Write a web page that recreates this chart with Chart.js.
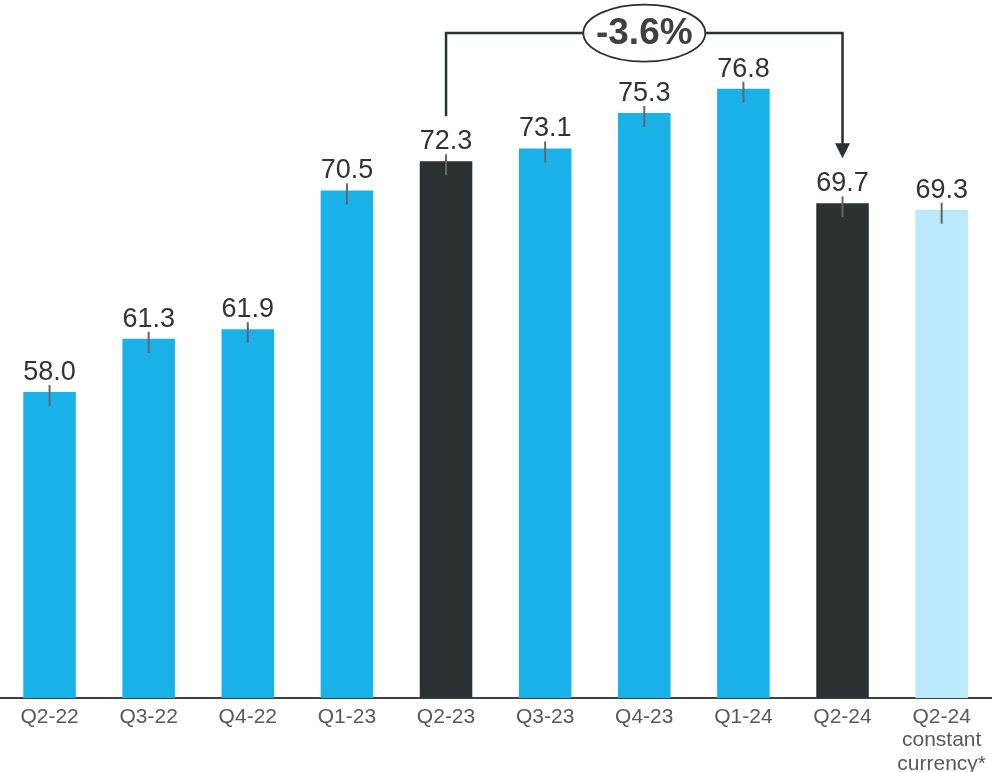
<!DOCTYPE html>
<html>
<head>
<meta charset="utf-8">
<script src="https://cdn.jsdelivr.net/npm/chart.js@4"></script>
<style>
  html, body { margin: 0; padding: 0; background: #fff; overflow: hidden; }
  #wrap { width: 994px; height: 772px; }
</style>
</head>
<body>
<div id="wrap"><canvas id="chartContainer" width="994" height="772"></canvas></div>
<script>
// Quarterly values
const quarters = ['Q2-22', 'Q3-22', 'Q4-22', 'Q1-23', 'Q2-23', 'Q3-23', 'Q4-23', 'Q1-24', 'Q2-24',
                  ['Q2-24', 'constant', 'currency*']];
const values = [58.0, 61.3, 61.9, 70.5, 72.3, 73.1, 75.3, 76.8, 69.7, 69.3];
const barColors = ['#1AB0E8', '#1AB0E8', '#1AB0E8', '#1AB0E8', '#2B3033',
                   '#1AB0E8', '#1AB0E8', '#1AB0E8', '#2B3033', '#B9E9FB'];

// change bracket: from Q2-23 to Q2-24
const changeFrom = 4;
const changeTo = 8;
const changeLabel = '-3.6%';
const bracketLevel = 80.25;

const FONT = '"Liberation Sans", Arial, sans-serif';

// value labels, little tick marks and the change bracket
const decorations = {
    id: 'decorations',
    afterDatasetsDraw(chart) {
        const ctx = chart.ctx;
        const bars = chart.getDatasetMeta(0).data;
        const yScale = chart.scales.y;

        ctx.save();
        bars.forEach((bar, i) => {
            ctx.strokeStyle = '#666';
            ctx.lineWidth = 2;
            ctx.beginPath();
            ctx.moveTo(bar.x, bar.y - 7);
            ctx.lineTo(bar.x, bar.y + 14);
            ctx.stroke();

            ctx.fillStyle = '#333';
            ctx.font = '27px ' + FONT;
            ctx.textAlign = 'center';
            ctx.textBaseline = 'alphabetic';
            ctx.fillText(values[i].toFixed(1), bar.x, bar.y - 12);
        });

        const a = bars[changeFrom];
        const b = bars[changeTo];
        const top = yScale.getPixelForValue(bracketLevel);
        const tip = b.y - 45;

        ctx.strokeStyle = '#2B3033';
        ctx.fillStyle = '#2B3033';
        ctx.lineWidth = 2.5;
        ctx.beginPath();
        ctx.moveTo(a.x, a.y - 45);
        ctx.lineTo(a.x, top);
        ctx.lineTo(b.x, top);
        ctx.lineTo(b.x, tip - 14);
        ctx.stroke();

        // arrow head
        ctx.beginPath();
        ctx.moveTo(b.x - 7.5, tip - 15);
        ctx.lineTo(b.x + 7.5, tip - 15);
        ctx.lineTo(b.x, tip);
        ctx.closePath();
        ctx.fill();

        // pill with the change
        const cx = (a.x + b.x) / 2;
        ctx.beginPath();
        ctx.ellipse(cx, top, 61, 28.5, 0, 0, Math.PI * 2);
        ctx.fillStyle = '#fff';
        ctx.fill();
        ctx.lineWidth = 1.8;
        ctx.stroke();

        ctx.fillStyle = '#404040';
        ctx.font = 'bold 37px ' + FONT;
        ctx.textAlign = 'center';
        ctx.textBaseline = 'middle';
        ctx.fillText(changeLabel, cx, top + 1);
        ctx.restore();
    }
};

const ctx = document.getElementById('chartContainer').getContext('2d');
const barChart = new Chart(ctx, {
    type: 'bar',
    data: {
        labels: quarters,
        datasets: [{
            data: values,
            backgroundColor: barColors,
            categoryPercentage: 1,
            barPercentage: 0.53
        }]
    },
    options: {
        responsive: false,
        animation: false,
        layout: { padding: 0 },
        plugins: {
            legend: { display: false },
            tooltip: { enabled: false }
        },
        scales: {
            x: {
                grid: { display: false, drawTicks: false },
                border: { display: true, color: '#404040', width: 2 },
                ticks: {
                    color: '#595959',
                    font: { family: FONT, size: 21, lineHeight: 1.1 },
                    padding: 8,
                    maxRotation: 0,
                    autoSkip: false
                },
                afterFit(scale) { scale.height = 74; }
            },
            y: {
                display: false,
                min: 39.04,
                max: 82.3
            }
        }
    },
    plugins: [decorations]
});
</script>
</body>
</html>
